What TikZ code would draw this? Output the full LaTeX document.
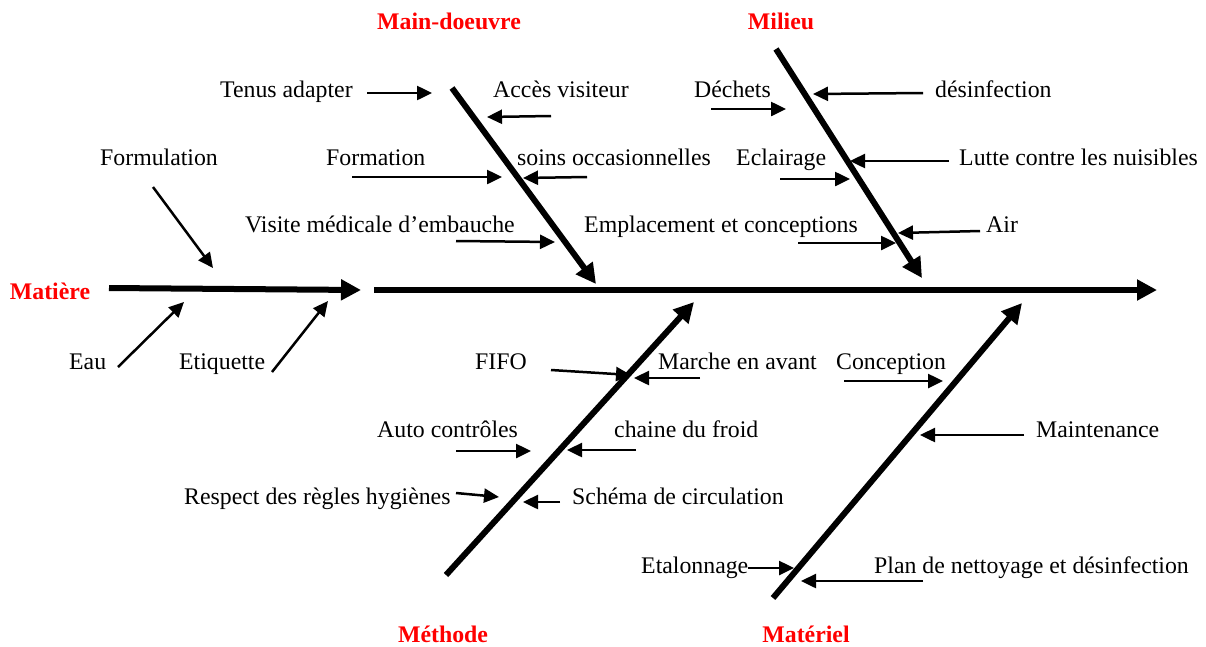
\documentclass[tikz,border=0pt]{standalone}
\usepackage{fontspec}
\setmainfont{Liberation Serif}
\usetikzlibrary{arrows.meta}
\begin{document}
\begin{tikzpicture}[x=1pt,y=-1pt,
  lbl/.style={inner sep=0pt, anchor=base west, font=\fontsize{23.8}{28}\selectfont},
  cat/.style={inner sep=0pt, anchor=base, text=red, font=\fontsize{23.8}{28}\selectfont\bfseries},
  bone/.style={line width=6pt, -{Triangle[length=20pt,width=20pt]}},
  sub/.style={line width=2.5pt, -{Triangle[length=15pt,width=14pt]}}]
\useasboundingbox (0,0) rectangle (1206,646);

% category labels
\node[cat] (mo) at (449,29) {Main-doeuvre};
\node[cat] (mi) at (781,29) {Milieu};
\node[cat] (ma) at (50,299) {Matière};
\node[cat] (me) at (443,642) {Méthode};
\node[cat] (mt) at (806,642) {Matériel};

% spines and bones
\coordinate (s1a) at (109,288); \coordinate (s1b) at (361,290);
\coordinate (s2a) at (374,290); \coordinate (s2b) at (1157,290);
\coordinate (b1a) at (452,88);  \coordinate (b1b) at (596,284);
\coordinate (b2a) at (776,49);  \coordinate (b2b) at (922,278);
\coordinate (b3a) at (446,575); \coordinate (b3b) at (694,302);
\coordinate (b4a) at (773,598); \coordinate (b4b) at (1022,303);
\draw[bone] (s1a) -- (s1b);
\draw[bone] (s2a) -- (s2b);
\draw[bone] (b1a) -- (b1b);
\draw[bone] (b2a) -- (b2b);
\draw[bone] (b3a) -- (b3b);
\draw[bone] (b4a) -- (b4b);

% Main-doeuvre
\node[lbl] (tenus) at (220,97) {Tenus adapter};
\node[lbl] (acces) at (493,97) {Accès visiteur};
\node[lbl] (formation) at (326,165) {Formation};
\node[lbl] (soins) at (517,165) {soins occasionnelles};
\node[lbl] (visite) at (245,232) {Visite médicale d’embauche};
\coordinate (t1) at (367,93);  \coordinate (t2) at (432,93);
\coordinate (ac1) at (551,116); \coordinate (ac2) at (487,117);
\coordinate (f1) at (352,177); \coordinate (f2) at (502,177);
\coordinate (so1) at (587,177); \coordinate (so2) at (523,178);
\coordinate (v1) at (456,241); \coordinate (v2) at (555,242);
\draw[sub] (t1) -- (t2);
\draw[sub] (ac1) -- (ac2);
\draw[sub] (f1) -- (f2);
\draw[sub] (so1) -- (so2);
\draw[sub] (v1) -- (v2);

% Milieu
\node[lbl] (dechets) at (694,97) {Déchets};
\node[lbl] (desinf) at (935,97) {désinfection};
\node[lbl] (eclair) at (736,165) {Eclairage};
\node[lbl] (lutte) at (959,165) {Lutte contre les nuisibles};
\node[lbl] (empl) at (584,232) {Emplacement et conceptions};
\node[lbl] (air) at (986,232) {Air};
\coordinate (d1) at (711,109); \coordinate (d2) at (786,109);
\coordinate (di1) at (923,93); \coordinate (di2) at (813,94);
\coordinate (e1) at (780,179); \coordinate (e2) at (850,179);
\coordinate (l1) at (949,161); \coordinate (l2) at (850,161);
\coordinate (em1) at (798,243); \coordinate (em2) at (896,243);
\coordinate (ai1) at (980,231); \coordinate (ai2) at (898,233);
\draw[sub] (d1) -- (d2);
\draw[sub] (di1) -- (di2);
\draw[sub] (e1) -- (e2);
\draw[sub] (l1) -- (l2);
\draw[sub] (em1) -- (em2);
\draw[sub] (ai1) -- (ai2);

% Matiere
\node[lbl] (formul) at (100,165) {Formulation};
\node[lbl] (eau) at (69,369) {Eau};
\node[lbl] (etiq) at (179,369) {Etiquette};
\coordinate (fo1) at (153,187); \coordinate (fo2) at (213,268);
\coordinate (ea1) at (118,367); \coordinate (ea2) at (184,302);
\coordinate (et1) at (272,372); \coordinate (et2) at (328,301);
\draw[sub] (fo1) -- (fo2);
\draw[sub] (ea1) -- (ea2);
\draw[sub] (et1) -- (et2);

% Methode
\node[lbl] (fifo) at (475,369) {FIFO};
\node[lbl] (marche) at (658,369) {Marche en avant};
\node[lbl] (auto) at (377,437) {Auto contrôles};
\node[lbl] (chaine) at (614,437) {chaine du froid};
\node[lbl] (respect) at (184,504) {Respect des règles hygiènes};
\node[lbl] (schema) at (572,504) {Schéma de circulation};
\coordinate (fi1) at (551,370); \coordinate (fi2) at (631,375);
\coordinate (ma1) at (700,378); \coordinate (ma2) at (634,378);
\coordinate (au1) at (456,451); \coordinate (au2) at (531,451);
\coordinate (ch1) at (636,450); \coordinate (ch2) at (567,450);
\coordinate (re1) at (456,493); \coordinate (re2) at (499,497);
\coordinate (sc1) at (560,502); \coordinate (sc2) at (523,502);
\draw[sub] (fi1) -- (fi2);
\draw[sub] (ma1) -- (ma2);
\draw[sub] (au1) -- (au2);
\draw[sub] (ch1) -- (ch2);
\draw[sub] (re1) -- (re2);
\draw[sub] (sc1) -- (sc2);

% Materiel
\node[lbl] (concep) at (836,369) {Conception};
\node[lbl] (maint) at (1036,437) {Maintenance};
\node[lbl] (etal) at (641,573) {Etalonnage};
\node[lbl] (plan) at (874,573) {Plan de nettoyage et désinfection};
\coordinate (co1) at (844,381); \coordinate (co2) at (943,381);
\coordinate (mn1) at (1024,435); \coordinate (mn2) at (920,435);
\coordinate (el1) at (748,568); \coordinate (el2) at (794,568);
\coordinate (pl1) at (923,581); \coordinate (pl2) at (801,581);
\draw[sub] (co1) -- (co2);
\draw[sub] (mn1) -- (mn2);
\draw[sub] (el1) -- (el2);
\draw[sub] (pl1) -- (pl2);
\end{tikzpicture}
\end{document}
